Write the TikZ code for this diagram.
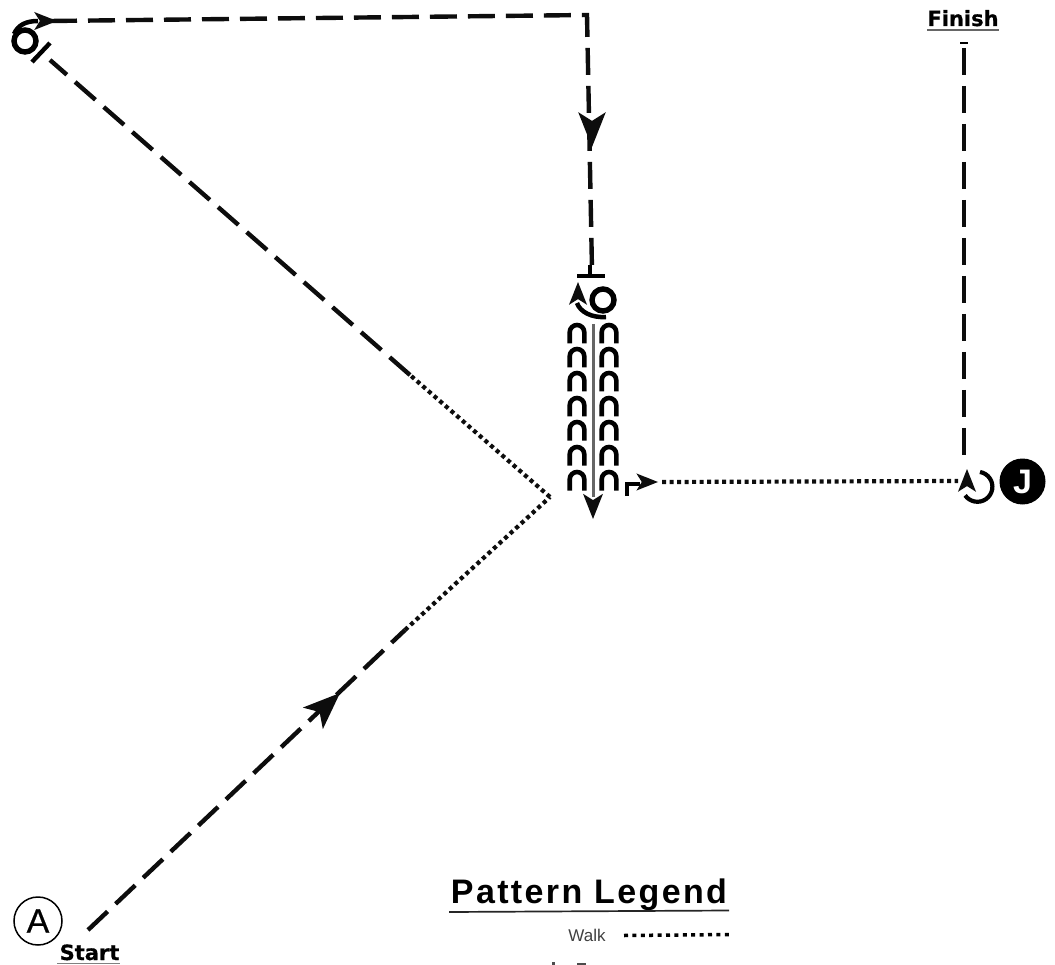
\documentclass[tikz,border=0pt]{standalone}
\usepackage{fontspec}
\setmainfont{Liberation Sans}
\newfontfamily\labelfont{DejaVu Sans}
\usetikzlibrary{arrows.meta}
\tikzset{
  x=1pt,y=-1pt,
  dashline/.style={line width=4.4pt,dash pattern=on 27pt off 11pt,black!95},
  dotline/.style={line width=4.2pt,dash pattern=on 4pt off 3.5pt,black!95},
  ringmark/.style={circle,draw,line width=5.4pt,minimum size=22pt,inner sep=0pt},
  archmark/.style={line width=4.6pt,line cap=butt},
  barmark/.style={line width=4.4pt},
  headmark/.style={fill=black!95,draw=none},
  labeltext/.style={font=\labelfont\bfseries\fontsize{21}{21}\selectfont\addfontfeature{FakeBold=0.6},inner sep=0pt,anchor=base},
}
\newcommand{\archat}[2]{\draw[archmark] (#1-7.3,#2+18.5) -- (#1-7.3,#2+7.3) arc[start angle=180,end angle=0,radius=7.3pt] -- (#1+7.3,#2+18.5);}
\newcommand{\headat}[4]{\fill[headmark,shift={(#1,#2)},rotate=#3,scale=#4] (0,0) -- (-24pt,-9.5pt) -- (-18pt,0pt) -- (-24pt,9.5pt) -- cycle;}
\begin{document}
\begin{tikzpicture}
\useasboundingbox (0,0) rectangle (1055,965);
% named points
\coordinate (astart) at (88,930);
\coordinate (adash) at (405,630);
\coordinate (apex) at (550,497);
\coordinate (bdash) at (410,375);
\coordinate (cslash) at (50,60);
\coordinate (ctop) at (50,21);
\coordinate (corner) at (587,15);
\coordinate (dtop) at (592,270);
\coordinate (rstart) at (662,482);
\coordinate (rend) at (958,481);
\coordinate (jtop) at (964,464);
\coordinate (ftop) at (964,48);

\node[circle,draw,line width=1.5pt,minimum size=48pt,inner sep=0pt,font=\fontsize{34}{34}\selectfont\addfontfeature{FakeBold=0.5}] (A) at (38,921) {A};
\node[labeltext] (start) at (89.5,960) {Start};
\draw[line width=1.6pt,black!50] (57,963.5) -- (120,963.5);
\node[labeltext] (finish) at (963,26) {Finish};
\draw[line width=1.5pt,black!60] (927,30) -- (999,30);
\draw[line width=2pt] (960,43) -- (968,43);

% paths
\draw[dashline] (astart) -- (adash);
\draw[dotline] (adash) -- (apex);
\draw[dotline] (apex) -- (bdash);
\draw[dashline] (bdash) -- (cslash);
\draw[dashline] (ctop) -- (corner) -- (dtop);
\draw[dotline] (rstart) -- (rend);
\draw[dashline] (ftop) -- (jtop);

% arrows on paths
\headat{340}{693}{43}{1.55}
\headat{592}{147}{-90}{1.45}

% top-left turn
\node[ringmark] (ring1) at (25,41) {};
\draw[line width=4.5pt] (14,34) .. controls (18,25) and (26,21) .. (38,21);
\draw[barmark] (32,62) -- (50,43);
\headat{57}{21}{0}{0.95}

% centre turn
\draw[barmark] (590,265) -- (590,276);
\draw[barmark] (577,276) -- (605,276);
\node[ringmark] (ring2) at (603,300) {};
\draw[line width=4.5pt] (577,303) .. controls (580,312) and (592,318) .. (606,317);
\headat{578}{282}{90}{0.95}

% arches
\foreach \r in {325,349,373,398,422,447,472}{
  \archat{577}{\r}
  \archat{609}{\r}
}
\draw[line width=3pt,black!60] (593,324) -- (593,497);
\headat{593}{519}{-90}{1.05}

% exit
\draw[barmark] (627,496) -- (627,484) -- (640,484);
\headat{658}{482}{0}{0.9}

% J
\draw[line width=4.2pt] (980,472) arc[start angle=80,end angle=-145,radius=15pt];
\headat{967}{469}{90}{0.95}
\node[circle,fill=black,minimum size=46pt,inner sep=0pt,text=white,font=\bfseries\fontsize{34}{34}\selectfont] (J) at (1022.5,481.5) {J};

% legend
\node[font=\bfseries\fontsize{34}{34}\selectfont\addfontfeature{LetterSpace=7},inner sep=0pt,anchor=base] (legend) at (589,903) {Pattern Legend};
\draw[line width=1.7pt,black!85] (449,912) -- (729,910.5);
\node[font=\fontsize{17}{17}\selectfont,inner sep=0pt,text=black!75] (walk) at (587,935) {Walk};
\coordinate (w1) at (624,935.5);
\coordinate (w2) at (733,934.5);
\draw[line width=3.5pt,dash pattern=on 4pt off 4.4pt] (w1) -- (w2);
% clipped tops of the next legend row
\fill[black!70] (552,962) rectangle (555,965);
\fill[black!70] (577,963) rectangle (586,965);
\end{tikzpicture}
\end{document}
